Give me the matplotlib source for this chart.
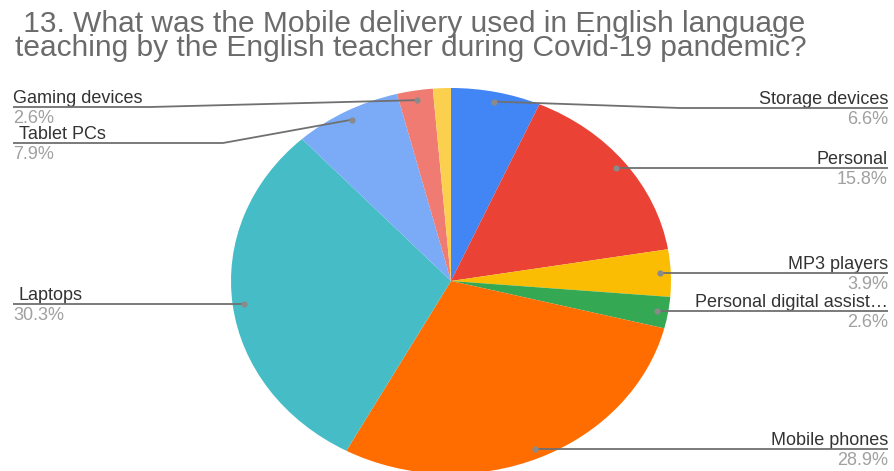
import matplotlib
matplotlib.use("Agg")
import numpy as np
import matplotlib.pyplot as plt

# Data
labels = ["Storage devices", "Personal", "MP3 players", "Personal digital assist\u2026",
          "Mobile phones", "Laptops", "Tablet PCs", "Gaming devices", "Other"]
counts = [5, 12, 3, 2, 22, 23, 6, 2, 1]
colors = ["#4285F4", "#EA4335", "#FBBC04", "#34A853", "#FF6D01",
          "#46BDC6", "#7BAAF7", "#F07B72", "#FCD04F"]
title_lines = [" 13. What was the Mobile delivery used in English language",
               "teaching by the English teacher during Covid-19 pandemic?"]

# Label layout: (side, line y in px, knee x in px, text x in px)
label_layout = {
    "Storage devices": ("right", 108, 680, 888),
    "Personal": ("right", 169, None, 888),
    "MP3 players": ("right", 273, None, 888),
    "Personal digital assist\u2026": ("right", 311, None, 888),
    "Mobile phones": ("right", 447, None, 888),
    "Laptops": ("left", 303, None, 19),
    "Tablet PCs": ("left", 143, 223, 19),
    "Gaming devices": ("left", 107, 150, 13),
}

W, H = 894, 471
plt.rcParams["font.family"] = ["Liberation Sans", "DejaVu Sans"]
fig = plt.figure(figsize=(W / 100, H / 100), dpi=100)

# pie axes (ellipse bounding box, px)
cx, cy, rx, ry = 451, 281, 220, 193
left, right = cx - rx, cx + rx
top, bottom = cy - ry, cy + ry
ax = fig.add_axes([left / W, 1 - bottom / H, (right - left) / W, (bottom - top) / H])
wedges, _ = ax.pie(counts, colors=colors, startangle=90, counterclock=False,
                   radius=1, wedgeprops=dict(linewidth=0))
ax.set_aspect("auto")
ax.set_xlim(-1, 1)
ax.set_ylim(-1, 1)
ax.axis("off")

# overlay axes in pixel coordinates, on top of the pie
ax0 = fig.add_axes([0, 0, 1, 1])
ax0.set_xlim(0, W)
ax0.set_ylim(H, 0)
ax0.axis("off")
ax0.patch.set_alpha(0)

total = sum(counts)
to_px = ax0.transData.inverted()
for w, lab, n in zip(wedges, labels, counts):
    if lab not in label_layout:
        continue
    side, ly, knee, tx = label_layout[lab]
    mid = np.deg2rad((w.theta1 + w.theta2) / 2)
    dx, dy = 0.95 * np.cos(mid), 0.95 * np.sin(mid)
    px, py = to_px.transform(ax.transData.transform((dx, dy)))
    xs = [px]
    ys = [py]
    if knee is not None:
        xs.append(knee)
        ys.append(ly)
    else:
        ly = py
    end_x = 888 if side == "right" else 13
    xs.append(end_x)
    ys.append(ly)
    ax0.plot(xs, ys, color="#707070", lw=1.3, solid_capstyle="butt", zorder=5)
    ax0.plot(px, py, "o", color="#8a8a8a", ms=4.5, mec="none", zorder=6)
    ha = "right" if side == "right" else "left"
    ax0.text(tx, ly - 4, lab, ha=ha, va="baseline", fontsize=13, color="#333333")
    pct_x = 888 if side == "right" else 13
    ax0.text(pct_x, ly + 3, f"{100 * n / total:.1f}%", ha=ha, va="top",
             fontsize=13, color="#a0a0a0")

# Title (one text, two lines)
ax0.text(15, 10, "\n".join(title_lines), ha="left", va="top", fontsize=21.5,
         color="#6b6b6b", linespacing=0.84)

fig.savefig("out.png", dpi=100, facecolor="white")
